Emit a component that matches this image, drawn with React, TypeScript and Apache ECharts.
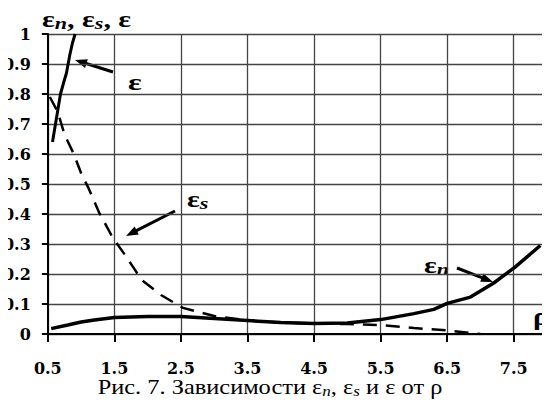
import React, { useEffect, useRef } from "react";
import * as echarts from "echarts";

const xTicks = [0.5, 1.5, 2.5, 3.5, 4.5, 5.5, 6.5, 7.5];
const yTicks = [0, 0.1, 0.2, 0.3, 0.4, 0.5, 0.6, 0.7, 0.8, 0.9, 1];

// ε (solid, steep at left)
const epsData: [number, number][] = [
  [0.57, 0.64], [0.6, 0.68], [0.63, 0.72], [0.66, 0.76], [0.69, 0.8], [0.74, 0.84],
  [0.78, 0.87], [0.83, 0.93], [0.87, 0.97], [0.91, 1.0],
];

// εs (dashed)
const epsSData: [number, number][] = [
  [0.53, 0.79], [0.65, 0.74], [0.75, 0.665], [0.89, 0.6], [1.01, 0.53], [1.11, 0.487],
  [1.27, 0.405], [1.47, 0.323], [1.68, 0.257], [1.91, 0.18], [2.2, 0.13], [2.53, 0.087],
  [3.0, 0.06], [3.5, 0.045], [4.0, 0.038], [4.5, 0.035], [5.0, 0.033], [5.5, 0.03],
  [6.0, 0.02], [6.5, 0.012], [7.0, 0.0],
];

// εn (solid, rising at right)
const epsNData: [number, number][] = [
  [0.55, 0.018], [0.8, 0.03], [1.0, 0.04], [1.2, 0.047], [1.5, 0.055], [2.0, 0.058],
  [2.5, 0.058], [3.0, 0.052], [3.5, 0.045], [4.0, 0.038], [4.5, 0.035], [5.0, 0.037],
  [5.5, 0.048], [6.0, 0.068], [6.3, 0.082], [6.5, 0.102], [6.85, 0.123], [7.2, 0.17],
  [7.52, 0.223], [7.9, 0.295],
];

const SERIF = "Liberation Serif";
const WIDE = "DejaVu Serif";

function arrow(x1: number, y1: number, x2: number, y2: number): any[] {
  const dx = x2 - x1;
  const dy = y2 - y1;
  const len = Math.sqrt(dx * dx + dy * dy);
  const ux = dx / len;
  const uy = dy / len;
  const hl = 12;
  const hw = 4.5;
  const bx = x2 - ux * hl;
  const by = y2 - uy * hl;
  const px = -uy * hw;
  const py = ux * hw;
  return [
    {
      type: "line",
      shape: { x1, y1, x2: bx + ux * 2, y2: by + uy * 2 },
      style: { stroke: "#000", lineWidth: 3 },
    },
    {
      type: "polygon",
      shape: { points: [[x2, y2], [bx + px, by + py], [bx - px, by - py]] },
      style: { fill: "#000" },
    },
  ];
}

export default function App() {
  const ref = useRef<HTMLDivElement>(null);
  useEffect(() => {
    if (!ref.current) return;
    const chart = echarts.init(ref.current, null, { renderer: "svg" });
    const labelStyle = { fontFamily: WIDE, fontWeight: "bold" as const, fontSize: 16, color: "#000" };
    const rich = {
      a: { fontFamily: SERIF, fontWeight: "bold", fontSize: 23, fill: "#000" },
      b: { fontFamily: SERIF, fontWeight: "bold", fontStyle: "italic", fontSize: 17, fill: "#000", padding: [7, 0, 0, 0] },
    };
    chart.setOption({
      animation: false,
      backgroundColor: "#fff",
      grid: { left: 43, right: -10, top: 34, bottom: 76, containLabel: false },
      xAxis: {
        type: "value",
        min: 0.5,
        max: 8,
        interval: 1,
        axisLine: { show: true, onZero: false, lineStyle: { color: "#000", width: 2 } },
        axisTick: { show: true, length: 8, lineStyle: { color: "#000", width: 2 } },
        axisLabel: {
          ...labelStyle,
          margin: 26,
          formatter: (v: number) => (xTicks.indexOf(v) >= 0 ? v.toFixed(1) : ""),
        },
        splitLine: { show: true, lineStyle: { color: "#444", width: 1.3 } },
      },
      yAxis: {
        type: "value",
        min: 0,
        max: 1,
        interval: 0.1,
        axisLine: { show: true, lineStyle: { color: "#000", width: 2 } },
        axisTick: { show: true, length: 6, lineStyle: { color: "#000", width: 2 } },
        axisLabel: {
          ...labelStyle,
          margin: 17,
          formatter: (v: number) => {
            const r = Math.round(v * 10) / 10;
            const t = yTicks.find((y) => Math.abs(y - r) < 1e-9);
            if (t === undefined) return "";
            return t === 0 ? "0" : t === 1 ? "1" : t.toFixed(1);
          },
        },
        splitLine: { show: true, lineStyle: { color: "#444", width: 1.3 } },
      },
      series: [
        {
          name: "εn",
          type: "line",
          data: epsNData,
          showSymbol: false,
          symbol: "none",
          lineStyle: { color: "#000", width: 3.5 },
        },
        {
          name: "εs",
          type: "line",
          data: epsSData,
          showSymbol: false,
          symbol: "none",
          lineStyle: { color: "#000", width: 2.5, type: [14, 9] },
        },
        {
          name: "ε",
          type: "line",
          data: epsData,
          showSymbol: false,
          symbol: "none",
          lineStyle: { color: "#000", width: 3 },
        },
      ],
      graphic: [
        {
          type: "text",
          x: 42,
          y: 7,
          scaleX: 1.3,
          style: { text: "{a|ε}{b|n}{a|, ε}{b|s}{a|, ε}", rich, fill: "#000" },
        },
        {
          type: "text",
          x: 128,
          y: 71,
          scaleX: 1.4,
          style: { text: "ε", fontFamily: SERIF, fontWeight: "bold", fontSize: 23, fill: "#000" },
        },
        {
          type: "text",
          x: 187,
          y: 187,
          scaleX: 1.3,
          style: { text: "{a|ε}{b|s}", rich, fill: "#000" },
        },
        {
          type: "text",
          x: 424,
          y: 253,
          scaleX: 1.3,
          style: { text: "{a|ε}{b|n}", rich, fill: "#000" },
        },
        {
          type: "text",
          x: 533,
          y: 303,
          scaleX: 1.15,
          style: { text: "ρ", fontFamily: SERIF, fontWeight: "bold", fontSize: 26, fill: "#000" },
        },
        ...arrow(113, 72, 75, 60),
        ...arrow(175, 211, 126, 236),
        ...arrow(457, 268, 493, 282),
        {
          type: "text",
          x: 270,
          y: 376,
          scaleX: 1.22,
          style: {
            text: "{c|Рис. 7. Зависимости ε}{d|n}{c|, ε}{d|s}{c| и ε от ρ}",
            align: "center",
            rich: {
              c: { fontFamily: SERIF, fontSize: 20, fill: "#000" },
              d: { fontFamily: SERIF, fontStyle: "italic", fontSize: 14, fill: "#000", padding: [8, 0, 0, 0] },
            },
            fill: "#000",
          },
        },
      ],
    });
    return () => chart.dispose();
  }, []);
  return <div ref={ref} style={{ width: 550, height: 410, margin: -8 }} />;
}
